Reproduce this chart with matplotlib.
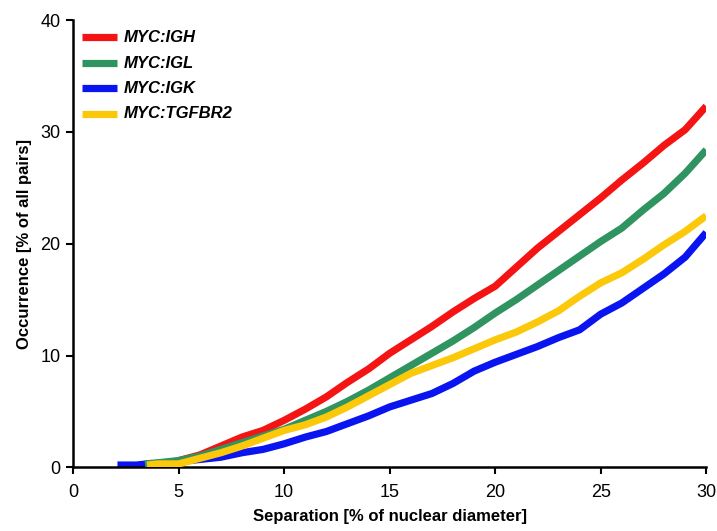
import matplotlib
matplotlib.use("Agg")
import matplotlib.pyplot as plt

# Separation [% of nuclear diameter]
x_igh = [4.6, 5, 6, 7, 8, 9, 10, 11, 12, 13, 14, 15, 16, 17, 18, 19, 20, 21, 22, 23, 24, 25, 26, 27, 28, 29, 30]
y_igh = [0.4, 0.6, 1.1, 1.9, 2.7, 3.3, 4.2, 5.2, 6.3, 7.6, 8.8, 10.2, 11.4, 12.6, 13.9, 15.1, 16.2, 17.9, 19.6, 21.1, 22.6, 24.1, 25.7, 27.2, 28.8, 30.2, 32.3]

x_igl = [3.4, 4, 5, 6, 7, 8, 9, 10, 11, 12, 13, 14, 15, 16, 17, 18, 19, 20, 21, 22, 23, 24, 25, 26, 27, 28, 29, 30]
y_igl = [0.3, 0.4, 0.6, 1.0, 1.6, 2.2, 2.8, 3.4, 4.2, 5.0, 5.9, 6.9, 8.0, 9.1, 10.2, 11.3, 12.5, 13.8, 15.0, 16.3, 17.6, 18.9, 20.2, 21.4, 23.0, 24.5, 26.3, 28.4]

x_igk = [2.1, 3, 3.5, 4, 5, 6, 7, 8, 9, 10, 11, 12, 13, 14, 15, 16, 17, 18, 19, 20, 21, 22, 23, 24, 25, 26, 27, 28, 29, 30]
y_igk = [0.2, 0.2, 0.3, 0.35, 0.5, 0.7, 0.9, 1.3, 1.6, 2.1, 2.7, 3.2, 3.9, 4.6, 5.4, 6.0, 6.6, 7.5, 8.6, 9.4, 10.1, 10.8, 11.6, 12.3, 13.7, 14.7, 16.0, 17.3, 18.8, 21.0]

x_tgf = [3.5, 4, 5, 6, 7, 8, 9, 10, 11, 12, 13, 14, 15, 16, 17, 18, 19, 20, 21, 22, 23, 24, 25, 26, 27, 28, 29, 30]
y_tgf = [0.2, 0.3, 0.3, 0.8, 1.3, 1.9, 2.6, 3.3, 3.8, 4.5, 5.4, 6.4, 7.4, 8.4, 9.1, 9.8, 10.6, 11.4, 12.1, 13.0, 14.0, 15.3, 16.5, 17.4, 18.6, 19.9, 21.1, 22.5]

labels = ["MYC:IGH", "MYC:IGL", "MYC:IGK", "MYC:TGFBR2"]
colors = ["#f41414", "#2f9460", "#0a14f0", "#fcc80a"]

x_ticks = [0, 5, 10, 15, 20, 25, 30]
y_ticks = [0, 10, 20, 30, 40]

plt.rcParams['font.family'] = ['Liberation Sans', 'DejaVu Sans']

fig = plt.figure(figsize=(7.17, 5.31), dpi=100)
ax = fig.add_axes([0.102, 0.12, 0.883, 0.842])

lw = 5.2
ax.plot(x_igk, y_igk, color=colors[2], lw=lw, label=labels[2], zorder=2, solid_capstyle='butt')
ax.plot(x_igh, y_igh, color=colors[0], lw=lw, label=labels[0], zorder=3, solid_capstyle='butt')
ax.plot(x_igl, y_igl, color=colors[1], lw=lw, label=labels[1], zorder=4, solid_capstyle='butt')
ax.plot(x_tgf, y_tgf, color=colors[3], lw=lw, label=labels[3], zorder=5, solid_capstyle='butt')

ax.set_xlim(0, 30)
ax.set_ylim(0, 40)
ax.set_xticks(x_ticks)
ax.set_yticks(y_ticks)
ax.tick_params(axis='both', direction='out', length=5, width=1.5, labelsize=13, pad=4)
ax.tick_params(axis='x', pad=7)
for s in ['top', 'right']:
    ax.spines[s].set_visible(False)
for s in ['left', 'bottom']:
    ax.spines[s].set_linewidth(1.8)

ax.set_xlabel("Separation [% of nuclear diameter]", fontsize=12, fontweight='bold', labelpad=6)
ax.set_ylabel("Occurrence [% of all pairs]", fontsize=12, fontweight='bold', labelpad=6)

handles, labs = ax.get_legend_handles_labels()
order = [labs.index(l) for l in labels]
leg = ax.legend([handles[i] for i in order], [labs[i] for i in order],
                loc='upper left', frameon=False, handlelength=2.5, handletextpad=0.5,
                labelspacing=0.75, borderaxespad=0.0, bbox_to_anchor=(0.005, 0.99))
for t in leg.get_texts():
    t.set_fontweight('bold')
    t.set_fontstyle('italic')
    t.set_fontsize(12)

fig.savefig("out.png", dpi=100)
